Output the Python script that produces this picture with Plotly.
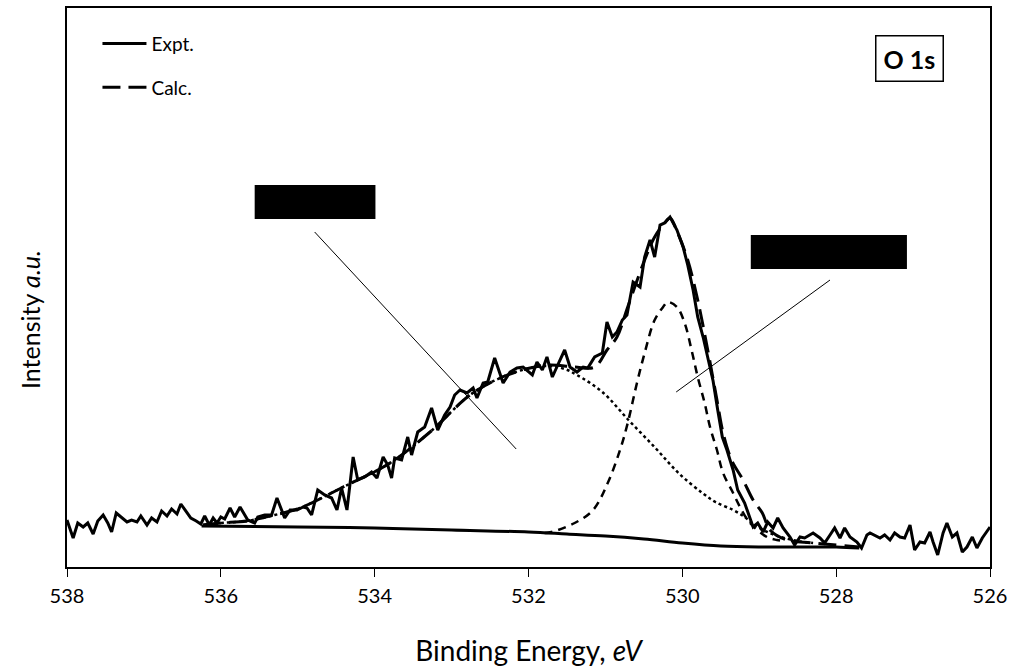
import plotly.graph_objects as go

# ---- O 1s spectrum: measured counts (arbitrary units) ----
expt_energy = [
    538.00, 537.92, 537.86, 537.79, 537.73, 537.66, 537.60, 537.53, 537.47, 537.42,
    537.36, 537.29, 537.22, 537.16, 537.09, 537.04, 536.96, 536.90, 536.83, 536.77,
    536.70, 536.64, 536.57, 536.52, 536.45, 536.39, 536.32, 536.26, 536.21, 536.15,
    536.10, 536.05, 536.00, 535.95, 535.88, 535.82, 535.75, 535.69, 535.65, 535.56,
    535.52, 535.43, 535.34, 535.27, 535.17, 535.10, 535.01, 534.93, 534.88, 534.82,
    534.74, 534.65, 534.56, 534.49, 534.43, 534.36, 534.28, 534.22, 534.13, 534.04,
    533.97, 533.89, 533.83, 533.78, 533.74, 533.65, 533.57, 533.52, 533.44, 533.35,
    533.26, 533.18, 533.09, 533.02, 532.96, 532.89, 532.80, 532.72, 532.67, 532.59,
    532.53, 532.44, 532.33, 532.24, 532.15, 532.07, 531.95, 531.89, 531.82, 531.76,
    531.69, 531.62, 531.53, 531.46, 531.37, 531.29, 531.23, 531.14, 531.04, 530.98,
    530.91, 530.85, 530.78, 530.72, 530.64, 530.55, 530.49, 530.42, 530.36, 530.29,
    530.23, 530.16, 530.07, 529.99, 529.93, 529.86, 529.80, 529.73, 529.67, 529.60,
    529.54, 529.48, 529.42, 529.34, 529.28, 529.19, 529.08, 529.02, 528.95, 528.89,
    528.82, 528.76, 528.69, 528.60, 528.54, 528.47, 528.41, 528.30, 528.21, 528.15,
    528.08, 528.02, 527.95, 527.89, 527.82, 527.73, 527.67, 527.60, 527.56, 527.50,
    527.43, 527.37, 527.30, 527.24, 527.17, 527.11, 527.04, 526.98, 526.91, 526.85,
    526.78, 526.74, 526.68, 526.61, 526.56, 526.49, 526.43, 526.36, 526.30, 526.23,
    526.17, 526.10, 526.00,
]
expt_counts = [
    47, 29, 44, 40, 44, 33, 46, 52, 44, 35,
    54, 49, 45, 47, 45, 51, 42, 49, 45, 56,
    51, 58, 53, 63, 55, 49, 46, 43, 51, 42,
    49, 44, 50, 48, 59, 50, 60, 52, 47, 44,
    50, 52, 52, 69, 49, 57, 57, 60, 59, 52,
    77, 72, 69, 57, 79, 57, 110, 87, 90, 95,
    89, 110, 102, 89, 109, 107, 130, 112, 135, 140,
    159, 137, 152, 160, 172, 177, 174, 179, 169, 184,
    185, 209, 184, 195, 199, 200, 192, 205, 197, 210,
    190, 202, 217, 200, 195, 200, 199, 210, 214, 245,
    230, 235, 247, 252, 285, 280, 310, 327, 310, 342,
    344, 350, 337, 320, 302, 277, 250, 230, 210, 186,
    157, 130, 117, 97, 77, 64, 40, 44, 35, 45,
    39, 49, 39, 30, 22, 30, 29, 34, 29, 24,
    32, 39, 29, 39, 30, 25, 19, 32, 34, 32,
    29, 32, 27, 34, 30, 29, 42, 17, 25, 24,
    35, 25, 12, 34, 44, 30, 34, 15, 20, 30,
    19, 29, 40,
]

# ---- fitted envelope ----
calc_energy = [536.23, 536.00, 535.66, 535.30, 534.97, 534.41, 533.80, 533.28, 532.76,
               532.37, 531.98, 531.72, 531.40, 531.14, 530.98, 530.85, 530.71, 530.49,
               530.36, 530.23, 530.16, 530.06, 529.93, 529.80, 529.67, 529.55, 529.47,
               529.36, 529.21, 529.08, 528.96, 528.86, 528.64, 528.30, 527.70]
calc_counts = [42, 44, 46, 52, 59, 80, 104, 135, 172,
               189, 199, 202, 200, 200, 217, 230, 260, 307,
               330, 344, 349, 334, 307, 267, 217, 167, 134,
               107, 87, 67, 54, 37, 27, 24, 20]

# ---- component at ~532 eV (dotted) ----
comp1_energy = [536.23, 536.00, 535.66, 535.30, 534.97, 534.41, 533.80, 533.28, 532.76,
                532.37, 531.98, 531.72, 531.53, 531.37, 531.04, 530.70, 530.35, 530.05,
                529.74, 529.57, 529.34, 529.19, 529.06, 528.80, 528.50, 528.30]
comp1_counts = [42, 44, 46, 52, 59, 80, 104, 135, 172,
                189, 199, 201, 198, 192, 175, 147, 119, 94,
                74, 65, 57, 50, 42, 32, 26, 24]

# ---- component at ~530.2 eV (dashed) ----
comp2_energy = [531.79, 531.70, 531.40, 531.16, 530.97, 530.81, 530.71, 530.59, 530.49,
                530.36, 530.25, 530.19, 530.07, 529.97, 529.88, 529.80, 529.71, 529.64,
                529.55, 529.47, 529.34, 529.25, 529.12, 528.90, 528.77, 528.69]
comp2_counts = [34, 35, 44, 57, 84, 117, 144, 184, 214,
                247, 260, 265, 260, 244, 217, 190, 164, 140,
                117, 94, 74, 60, 44, 30, 27, 26]

# ---- Shirley background ----
bg_energy = [536.25, 535.00, 534.00, 533.00, 532.00, 531.50, 531.00, 530.50, 530.00,
             529.50, 529.00, 528.50, 528.00, 527.70]
bg_counts = [41, 40, 39, 37, 35, 33, 31, 28, 24, 21, 20, 20, 20, 19]

x_ticks = [538, 536, 534, 532, 530, 528, 526]

FONT = "Lato, 'Open Sans', sans-serif"

fig = go.Figure()

fig.add_trace(go.Scatter(
    x=comp1_energy, y=comp1_counts, mode="lines", line_shape="spline",
    line=dict(color="black", width=2.5, dash="dot"), showlegend=False))
fig.add_trace(go.Scatter(
    x=comp2_energy, y=comp2_counts, mode="lines", line_shape="spline",
    line=dict(color="black", width=2.5, dash="8px,6px"), showlegend=False))
fig.add_trace(go.Scatter(
    x=bg_energy, y=bg_counts, mode="lines", line_shape="spline",
    line=dict(color="black", width=3), showlegend=False))
fig.add_trace(go.Scatter(
    x=expt_energy, y=expt_counts, mode="lines", name="Expt.",
    legendgroup="a", line=dict(color="black", width=3)))
fig.add_trace(go.Scatter(
    x=calc_energy, y=calc_counts, mode="lines", name="Calc.", line_shape="spline",
    legendgroup="b", line=dict(color="black", width=3, dash="18px,8px")))

# redacted peak labels with leader lines
label_boxes = [
    dict(x0=535.56, x1=533.99, y0=348, y1=382),
    dict(x0=529.11, x1=527.08, y0=298, y1=332),
]
leaders = [
    dict(x0=534.78, y0=335, x1=532.16, y1=118),
    dict(x0=528.08, y0=287, x1=530.08, y1=175),
]
for b in label_boxes:
    fig.add_shape(type="rect", xref="x", yref="y", fillcolor="black",
                  line=dict(color="black", width=0), **b)
for ln in leaders:
    fig.add_shape(type="line", xref="x", yref="y",
                  line=dict(color="black", width=1), **ln)

fig.add_annotation(
    xref="paper", yref="paper", x=0.913, y=0.910, xanchor="center", yanchor="middle",
    text="<b>O 1s</b>", showarrow=False, font=dict(family=FONT, size=25, color="black"),
    bordercolor="black", borderwidth=1.5, borderpad=7, bgcolor="white")

# vertical intensity label
fig.add_annotation(
    xref="paper", yref="paper", x=-0.040, y=0.442, xanchor="center", yanchor="middle",
    text="Intensity <i>a.u.</i>", textangle=-90, showarrow=False,
    font=dict(family=FONT, size=25, color="black"))

fig.update_xaxes(
    range=[538, 526], tickvals=x_ticks, ticktext=[str(t) for t in x_ticks],
    ticks="outside", ticklen=8, tickwidth=1, tickcolor="black",
    showline=True, linecolor="black", linewidth=2, mirror=True,
    showgrid=False, zeroline=False, ticklabelstandoff=2, automargin=False,
    tickfont=dict(family=FONT, size=20, color="black"),
    title=dict(text="Binding Energy, <i>eV</i>", standoff=35,
               font=dict(family=FONT, size=28, color="black")))
fig.update_yaxes(
    range=[0, 559], showticklabels=False, ticks="", automargin=False,
    showline=True, linecolor="black", linewidth=1.5, mirror=True,
    showgrid=False, zeroline=False)

fig.update_layout(
    width=1014, height=669,
    margin=dict(l=67, r=24, t=8, b=102),
    paper_bgcolor="white", plot_bgcolor="white",
    showlegend=True,
    legend=dict(x=0.033, y=0.97, xanchor="left", yanchor="top",
                font=dict(family=FONT, size=19, color="black"),
                bgcolor="rgba(0,0,0,0)", tracegroupgap=16, itemwidth=44),
)

fig.write_html("out.html")
